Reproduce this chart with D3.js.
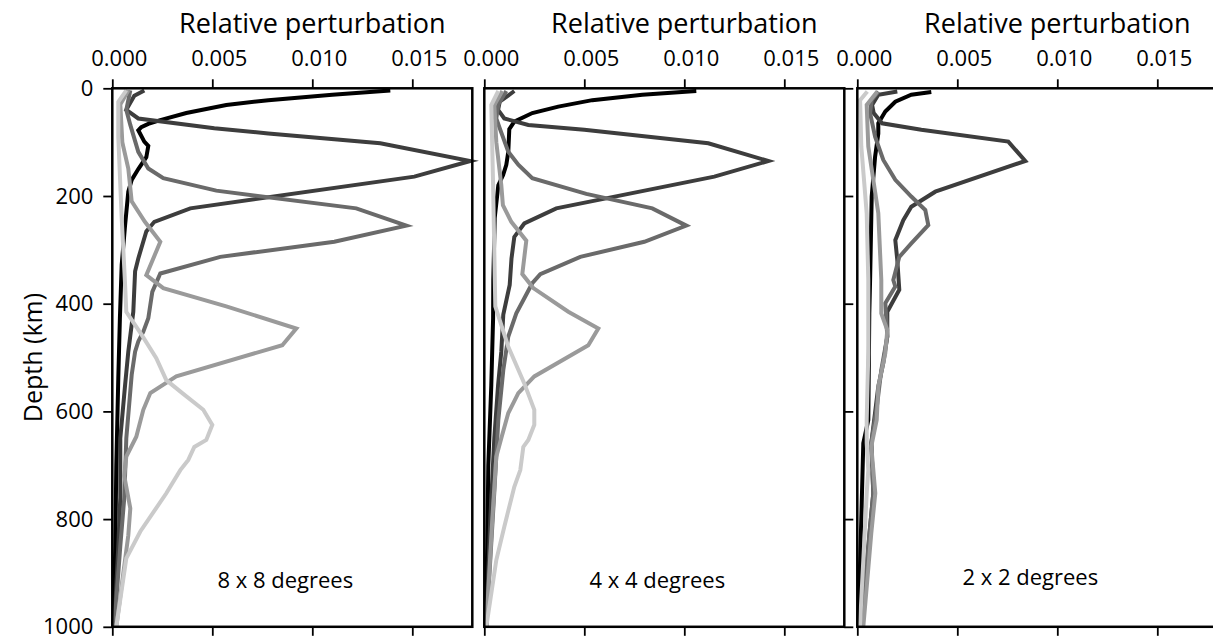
<!DOCTYPE html>
<html>
<head>
<meta charset="utf-8">
<script src="https://cdn.jsdelivr.net/npm/d3@7"></script>
<style>
  html, body { margin: 0; padding: 0; background: #fff; }
  svg { display: block; font-family: "Open Sans", "Noto Sans", sans-serif; }
</style>
</head>
<body>
<svg id="chart" width="1213" height="639"></svg>
<script>
// Axis ticks and panel labels
const depthTicks = [0, 200, 400, 600, 800, 1000];
const valueTicks = [0, 0.005, 0.010, 0.015];
const panelLabels = ["8 x 8 degrees", "4 x 4 degrees", "2 x 2 degrees"];
const axisTitle = "Relative perturbation";
const depthTitle = "Depth (km)";
const seriesColors = ["#000000", "#3d3d3d", "#6a6a6a", "#9a9a9a", "#cacaca"];

// Profiles as [depth (km), relative perturbation]
// 8 x 8 degrees
const deg8Black = [[4,0.0139],[12,0.0110],[22,0.0078],[31,0.0057],[46,0.0037],[59,0.0024],[66,0.0018],[72,0.00145],[78,0.0013],[99,0.0016],[107,0.0018],[128,0.0017],[150,0.0013],[170,0.00097],[192,0.0008],[254,0.00064],[328,0.00047],[427,0.00038],[538,0.0003],[700,0.0002],[850,0.00015],[1000,0.00005]];
const deg8Dark = [[4,0.0016],[14,0.0011],[40,0.0007],[56,0.0013],[74,0.0051],[84,0.0078],[102,0.0134],[135,0.0179],[164,0.0151],[223,0.0039],[248,0.0021],[266,0.0017],[316,0.0013],[340,0.00114],[415,0.00105],[489,0.0008],[551,0.00064],[650,0.0004],[760,0.0004],[850,0.0003],[1000,0.0001]];
const deg8Mid = [[4,0.0009],[40,0.0007],[68,0.0009],[118,0.0013],[149,0.0018],[167,0.00255],[190,0.0052],[223,0.0122],[255,0.0147],[285,0.0111],[313,0.0054],[344,0.0024],[378,0.0020],[427,0.0018],[452,0.00155],[470,0.0013],[489,0.00114],[532,0.00097],[650,0.0007],[760,0.0006],[850,0.0004],[1000,0.0001]];
const deg8Gray = [[4,0.0008],[30,0.0004],[100,0.0005],[149,0.0008],[210,0.00097],[248,0.00163],[285,0.0024],[347,0.0017],[371,0.00255],[405,0.0057],[446,0.0092],[477,0.0085],[535,0.0032],[566,0.0019],[597,0.00155],[647,0.0012],[684,0.0007],[720,0.0006],[780,0.0009],[830,0.0008],[1000,0.0002]];
const deg8Light = [[4,0.0007],[25,0.0003],[90,0.0003],[241,0.00047],[365,0.00064],[415,0.0007],[458,0.00147],[501,0.0022],[542,0.0027],[566,0.0035],[597,0.00455],[625,0.0050],[653,0.0047],[666,0.0041],[690,0.0038],[709,0.0034],[752,0.0027],[823,0.0014],[873,0.0007],[1000,0.0002]];

// 4 x 4 degrees
const deg4Black = [[5,0.0106],[12,0.0079],[22,0.0054],[34,0.0037],[46,0.0024],[62,0.0015],[76,0.00125],[118,0.0012],[142,0.0011],[161,0.00094],[180,0.0007],[241,0.00052],[356,0.00045],[427,0.00044],[551,0.00035],[700,0.0002],[850,0.00015],[1000,0.00005]];
const deg4Dark = [[5,0.0015],[25,0.00077],[40,0.00069],[56,0.001],[68,0.0022],[77,0.005],[102,0.0112],[135,0.0142],[164,0.0115],[223,0.0036],[251,0.002],[276,0.0015],[316,0.00136],[365,0.00127],[420,0.00095],[489,0.00085],[551,0.00069],[650,0.0005],[800,0.0003],[1000,0.0001]];
const deg4Mid = [[5,0.0011],[30,0.0007],[56,0.0006],[74,0.00077],[118,0.0012],[142,0.0017],[167,0.0024],[196,0.0051],[223,0.0084],[255,0.0101],[285,0.008],[313,0.0048],[345,0.0028],[362,0.0024],[418,0.0016],[461,0.0012],[523,0.00095],[616,0.0007],[750,0.0005],[1000,0.0001]];
const deg4Gray = [[5,0.0009],[31,0.0005],[100,0.0006],[180,0.00085],[217,0.00093],[248,0.00135],[283,0.0021],[345,0.0019],[371,0.00245],[415,0.0042],[446,0.0057],[477,0.0052],[535,0.0025],[566,0.0017],[603,0.0012],[647,0.00087],[684,0.0006],[800,0.0004],[1000,0.0001]];
const deg4Light = [[5,0.0007],[31,0.00035],[180,0.00044],[405,0.00055],[480,0.0012],[548,0.002],[597,0.0025],[625,0.0025],[653,0.0022],[666,0.00195],[709,0.0018],[740,0.0015],[814,0.001],[876,0.0006],[1000,0.0001]];

// 2 x 2 degrees
const deg2Black = [[7,0.0037],[12,0.0027],[25,0.0019],[43,0.0014],[65,0.00105],[84,0.00105],[127,0.00089],[201,0.00072],[356,0.00064],[418,0.0006],[616,0.00055],[659,0.0003],[800,0.0002],[1000,0.00005]];
const deg2Dark = [[6,0.002],[12,0.00105],[31,0.00074],[46,0.00082],[65,0.00124],[77,0.0032],[99,0.00755],[135,0.0084],[192,0.0039],[220,0.0027],[245,0.0023],[282,0.0019],[319,0.002],[374,0.0021],[415,0.0015],[461,0.0015],[510,0.0013],[554,0.00105],[659,0.0007],[752,0.0008],[814,0.00064],[1000,0.0002]];
const deg2Mid = [[6,0.00105],[22,0.00072],[46,0.00064],[90,0.00089],[133,0.0013],[170,0.0019],[201,0.0027],[226,0.0034],[254,0.00355],[288,0.0027],[313,0.0021],[356,0.0018],[368,0.0019],[399,0.0014],[461,0.0015],[523,0.0012],[585,0.001],[659,0.0007],[752,0.0008],[830,0.0006],[1000,0.0002]];
const deg2Gray = [[6,0.001],[31,0.00047],[108,0.00055],[232,0.00105],[356,0.0012],[418,0.0012],[449,0.0015],[492,0.0014],[554,0.00105],[616,0.00097],[665,0.0007],[752,0.0009],[826,0.0007],[1000,0.0003]];
const deg2Light = [[6,0.0005],[22,0.00014],[108,0.0002],[232,0.00047],[356,0.00055],[418,0.00055],[492,0.00055],[616,0.00047],[659,0.00047],[709,0.00055],[752,0.00047],[1000,0.00013]];

const panelSeries = [
  [deg8Black, deg8Dark, deg8Mid, deg8Gray, deg8Light],
  [deg4Black, deg4Dark, deg4Mid, deg4Gray, deg4Light],
  [deg2Black, deg2Dark, deg2Mid, deg2Gray, deg2Light]
];

// Layout
const panelLeft = [112.3, 484.3, 857.3];
const panelWidth = 360;
const plotTop = 88.3, plotBottom = 626.8;
const tickLen = 9;

const svg = d3.select("#chart");
const y = d3.scaleLinear().domain([0, 1000]).range([plotTop, plotBottom]);

panelSeries.forEach((series, p) => {
  const x = d3.scaleLinear().domain([0, 0.018]).range([panelLeft[p], panelLeft[p] + panelWidth]);
  const g = svg.append("g");

  // profiles, darkest first so lighter ones sit on top
  const line = d3.line().x(d => x(d[1])).y(d => y(d[0]));
  series.forEach((s, i) => {
    g.append("path")
      .attr("d", line(s))
      .attr("fill", "none")
      .attr("stroke", seriesColors[i])
      .attr("stroke-width", 4.0)
      .attr("stroke-linejoin", "miter")
      .attr("stroke-miterlimit", 6);
  });

  // frame
  g.append("rect")
    .attr("x", x(0)).attr("y", plotTop)
    .attr("width", panelWidth).attr("height", plotBottom - plotTop)
    .attr("fill", "none").attr("stroke", "#000").attr("stroke-width", 2.5);

  // top axis with labels
  const top = g.append("g").attr("transform", `translate(0,${plotTop})`)
    .call(d3.axisTop(x).tickValues(valueTicks).tickFormat(d3.format(".3f"))
      .tickSize(tickLen).tickPadding(13.3));
  top.select(".domain").remove();
  top.selectAll(".tick line").attr("stroke-width", 1.8);
  top.selectAll(".tick text").attr("font-size", 22).attr("font-family", "Open Sans")
    .attr("fill", "#000").attr("dx", 6.5);

  // bottom axis, ticks only
  const bottom = g.append("g").attr("transform", `translate(0,${plotBottom})`)
    .call(d3.axisBottom(x).tickValues(valueTicks).tickFormat("").tickSize(tickLen));
  bottom.select(".domain").remove();
  bottom.selectAll(".tick line").attr("stroke-width", 1.8);

  // axis title
  g.append("text")
    .attr("x", x(0.010)).attr("y", 32.5)
    .attr("text-anchor", "middle")
    .attr("font-size", 27)
    .text(axisTitle);

  // panel label
  g.append("text")
    .attr("x", x(0) + 173).attr("y", p === 2 ? 585 : 588)
    .attr("text-anchor", "middle")
    .attr("font-size", 22)
    .text(panelLabels[p]);

  if (p === 0) {
    const left = g.append("g").attr("transform", `translate(${x(0)},0)`)
      .call(d3.axisLeft(y).tickValues(depthTicks).tickFormat(d3.format("d"))
        .tickSize(tickLen).tickPadding(10));
    left.select(".domain").remove();
    left.selectAll(".tick line").attr("stroke-width", 1.8);
    left.selectAll(".tick text").attr("font-size", 22).attr("font-family", "Open Sans").attr("fill", "#000");
  }
  if (p === 1) {
    const right = g.append("g").attr("transform", `translate(${x(0) + panelWidth},0)`)
      .call(d3.axisRight(y).tickValues(depthTicks).tickFormat("").tickSize(tickLen));
    right.select(".domain").remove();
    right.selectAll(".tick line").attr("stroke-width", 1.8);
  }
});

// depth axis title
svg.append("text")
  .attr("transform", `translate(42,${(plotTop + plotBottom) / 2}) rotate(-90)`)
  .attr("text-anchor", "middle")
  .attr("font-size", 25)
  .text(depthTitle);
</script>
</body>
</html>
